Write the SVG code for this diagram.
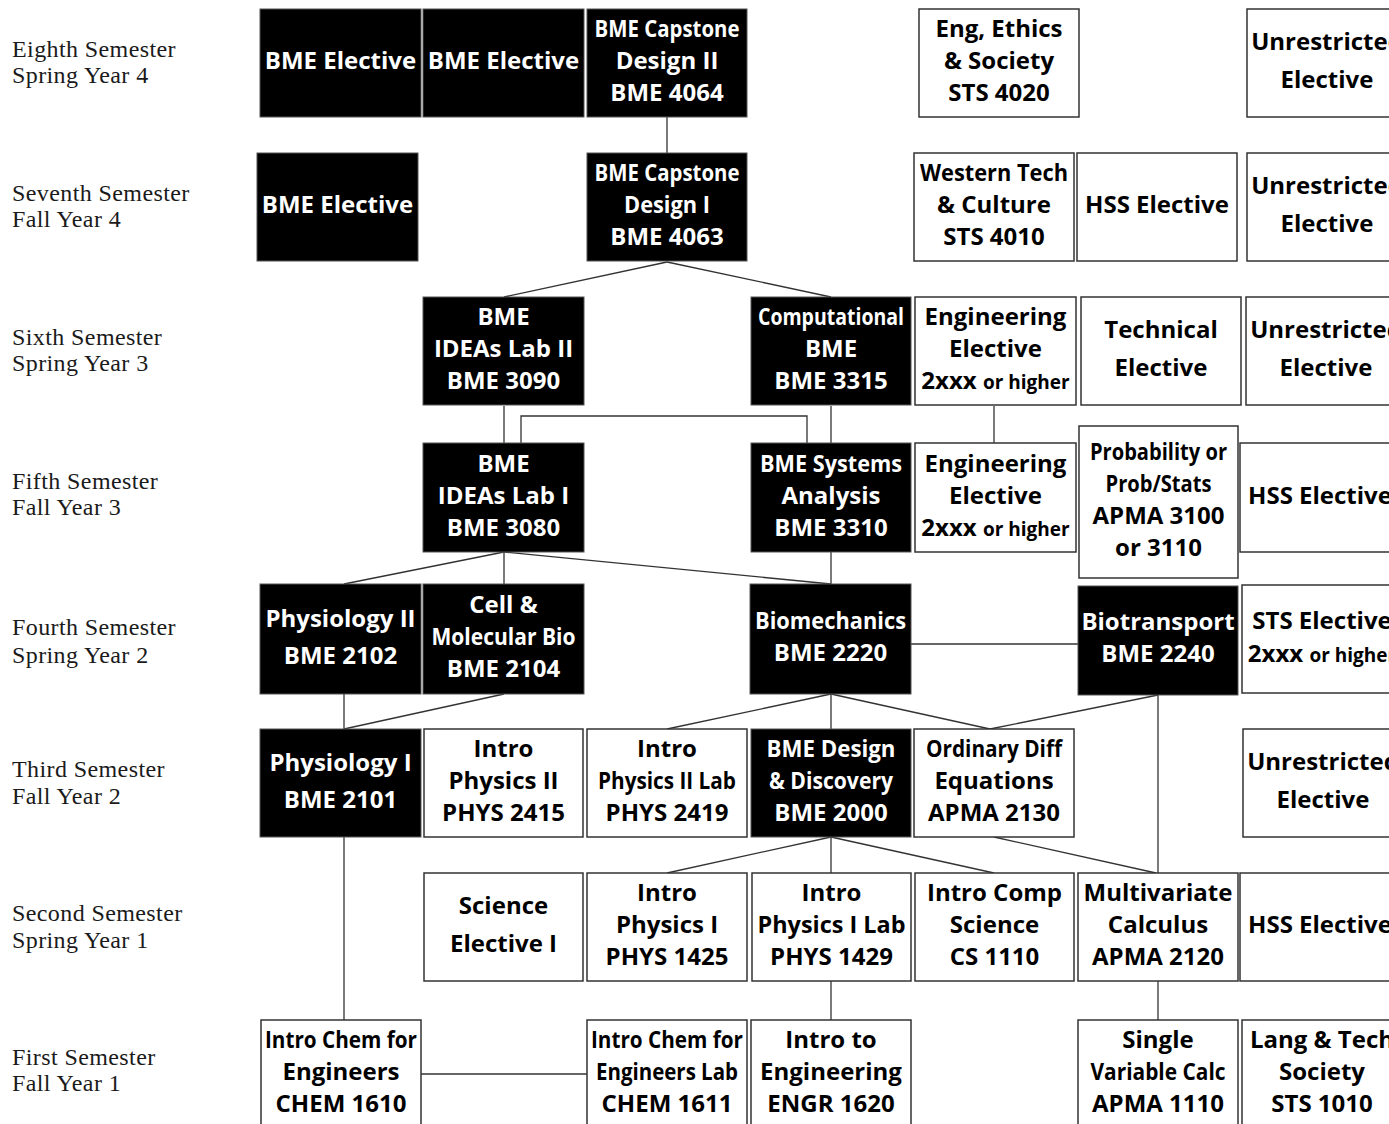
<svg xmlns="http://www.w3.org/2000/svg" width="1389" height="1124" viewBox="0 0 1389 1124">
<style>
.sem{font-family:"Liberation Serif","Times New Roman",serif;font-size:24px;letter-spacing:0.4px;fill:#1a1a1a}
.t{font-family:"Open Sans","Noto Sans",sans-serif;font-weight:700;font-size:24px;text-anchor:middle}
.bk rect{fill:#000;stroke:#555;stroke-width:1}
.bk text{fill:#fff}
.wh rect{fill:#fff;stroke:#333;stroke-width:1.5}
.wh text{fill:#000}
.sm{font-size:19px}
#connectors line,#connectors polyline{stroke:#333;stroke-width:1.3;fill:none}
</style>
<rect width="1389" height="1124" fill="#fff"/>
<g id="semesters">
<text class="sem" x="12" y="57">Eighth Semester</text><text class="sem" x="12" y="83">Spring Year 4</text>
<text class="sem" x="12" y="201">Seventh Semester</text><text class="sem" x="12" y="227">Fall Year 4</text>
<text class="sem" x="12" y="345">Sixth Semester</text><text class="sem" x="12" y="371">Spring Year 3</text>
<text class="sem" x="12" y="489">Fifth Semester</text><text class="sem" x="12" y="515">Fall Year 3</text>
<text class="sem" x="12" y="635">Fourth Semester</text><text class="sem" x="12" y="663">Spring Year 2</text>
<text class="sem" x="12" y="777">Third Semester</text><text class="sem" x="12" y="804">Fall Year 2</text>
<text class="sem" x="12" y="921">Second Semester</text><text class="sem" x="12" y="948">Spring Year 1</text>
<text class="sem" x="12" y="1065">First Semester</text><text class="sem" x="12" y="1091">Fall Year 1</text>
</g>
<g id="connectors">
<line x1="667" y1="117" x2="667" y2="153"/>
<line x1="667" y1="262" x2="504" y2="297"/>
<line x1="667" y1="262" x2="831" y2="297"/>
<line x1="504" y1="406" x2="504" y2="443"/>
<line x1="831" y1="406" x2="831" y2="443"/>
<polyline points="521,443 521,416 807,416 807,443"/>
<line x1="994" y1="406" x2="994" y2="443"/>
<line x1="504" y1="552" x2="344" y2="584"/>
<line x1="504" y1="552" x2="504" y2="584"/>
<line x1="504" y1="552" x2="831" y2="584"/>
<line x1="831" y1="552" x2="831" y2="584"/>
<line x1="911" y1="644" x2="1078" y2="644"/>
<line x1="344" y1="694" x2="344" y2="729"/>
<line x1="504" y1="694" x2="344" y2="729"/>
<line x1="831" y1="694" x2="667" y2="729"/>
<line x1="831" y1="694" x2="831" y2="729"/>
<line x1="831" y1="694" x2="990" y2="729"/>
<line x1="1158" y1="695" x2="990" y2="729"/>
<line x1="1158" y1="695" x2="1158" y2="873"/>
<line x1="344" y1="837" x2="344" y2="1020"/>
<line x1="831" y1="837" x2="667" y2="873"/>
<line x1="831" y1="837" x2="831" y2="873"/>
<line x1="831" y1="837" x2="994" y2="873"/>
<line x1="994" y1="837" x2="1156" y2="873"/>
<line x1="421" y1="1074" x2="587" y2="1074"/>
<line x1="831" y1="981" x2="831" y2="1020"/>
<line x1="1158" y1="981" x2="1158" y2="1020"/>
</g>
<!-- Row 8 -->
<g id="bme-elective-8a" class="bk"><rect x="260" y="9" width="161" height="108"/><text class="t" x="340.5" y="69">BME Elective</text></g>
<g id="bme-elective-8b" class="bk"><rect x="423" y="9" width="161" height="108"/><text class="t" x="503.5" y="69">BME Elective</text></g>
<g id="bme4064" class="bk"><rect x="587" y="9" width="160" height="108"/><text class="t" x="667" y="37" textLength="145" lengthAdjust="spacingAndGlyphs">BME Capstone</text><text class="t" x="667" y="69">Design II</text><text class="t" x="667" y="101">BME 4064</text></g>
<g id="sts4020" class="wh"><rect x="919" y="9" width="160" height="108"/><text class="t" x="999" y="37">Eng, Ethics</text><text class="t" x="999" y="69">&amp; Society</text><text class="t" x="999" y="101">STS 4020</text></g>
<g id="unrestricted-8" class="wh"><rect x="1247" y="9" width="160" height="108"/><text class="t" x="1327" y="50">Unrestricted</text><text class="t" x="1327" y="88">Elective</text></g>
<!-- Row 7 -->
<g id="bme-elective-7" class="bk"><rect x="257" y="153" width="161" height="108"/><text class="t" x="337.5" y="213">BME Elective</text></g>
<g id="bme4063" class="bk"><rect x="587" y="153" width="160" height="108"/><text class="t" x="667" y="181" textLength="145" lengthAdjust="spacingAndGlyphs">BME Capstone</text><text class="t" x="667" y="213" textLength="86" lengthAdjust="spacingAndGlyphs">Design I</text><text class="t" x="667" y="245">BME 4063</text></g>
<g id="sts4010" class="wh"><rect x="914" y="153" width="160" height="108"/><text class="t" x="994" y="181" textLength="148" lengthAdjust="spacingAndGlyphs">Western Tech</text><text class="t" x="994" y="213">&amp; Culture</text><text class="t" x="994" y="245">STS 4010</text></g>
<g id="hss-7" class="wh"><rect x="1077" y="153" width="160" height="108"/><text class="t" x="1157" y="213">HSS Elective</text></g>
<g id="unrestricted-7" class="wh"><rect x="1247" y="153" width="160" height="108"/><text class="t" x="1327" y="194">Unrestricted</text><text class="t" x="1327" y="232">Elective</text></g>
<!-- Row 6 -->
<g id="bme3090" class="bk"><rect x="423" y="297" width="161" height="108"/><text class="t" x="503.5" y="325">BME</text><text class="t" x="503.5" y="357">IDEAs Lab II</text><text class="t" x="503.5" y="389">BME 3090</text></g>
<g id="bme3315" class="bk"><rect x="751" y="297" width="160" height="108"/><text class="t" x="831" y="325" textLength="146" lengthAdjust="spacingAndGlyphs">Computational</text><text class="t" x="831" y="357">BME</text><text class="t" x="831" y="389">BME 3315</text></g>
<g id="eng-elective-6" class="wh"><rect x="915" y="297" width="161" height="108"/><text class="t" x="995.5" y="325">Engineering</text><text class="t" x="995.5" y="357">Elective</text><text class="t" x="995.5" y="389">2xxx <tspan class="sm">or higher</tspan></text></g>
<g id="technical-6" class="wh"><rect x="1081" y="297" width="160" height="108"/><text class="t" x="1161" y="338">Technical</text><text class="t" x="1161" y="376">Elective</text></g>
<g id="unrestricted-6" class="wh"><rect x="1246" y="297" width="160" height="108"/><text class="t" x="1326" y="338">Unrestricted</text><text class="t" x="1326" y="376">Elective</text></g>
<!-- Row 5 -->
<g id="bme3080" class="bk"><rect x="423" y="443" width="161" height="109"/><text class="t" x="503.5" y="472">BME</text><text class="t" x="503.5" y="504">IDEAs Lab I</text><text class="t" x="503.5" y="536">BME 3080</text></g>
<g id="bme3310" class="bk"><rect x="751" y="443" width="160" height="109"/><text class="t" x="831" y="472" textLength="142" lengthAdjust="spacingAndGlyphs">BME Systems</text><text class="t" x="831" y="504">Analysis</text><text class="t" x="831" y="536">BME 3310</text></g>
<g id="eng-elective-5" class="wh"><rect x="915" y="443" width="161" height="109"/><text class="t" x="995.5" y="472">Engineering</text><text class="t" x="995.5" y="504">Elective</text><text class="t" x="995.5" y="536">2xxx <tspan class="sm">or higher</tspan></text></g>
<g id="apma3100" class="wh"><rect x="1079" y="426" width="159" height="152"/><text class="t" x="1158.5" y="460" textLength="137" lengthAdjust="spacingAndGlyphs">Probability or</text><text class="t" x="1158.5" y="492" textLength="106" lengthAdjust="spacingAndGlyphs">Prob/Stats</text><text class="t" x="1158.5" y="524">APMA 3100</text><text class="t" x="1158.5" y="556">or 3110</text></g>
<g id="hss-5" class="wh"><rect x="1240" y="443" width="160" height="109"/><text class="t" x="1320" y="504">HSS Elective</text></g>
<!-- Row 4 -->
<g id="bme2102" class="bk"><rect x="260" y="584" width="161" height="110"/><text class="t" x="340.5" y="627">Physiology II</text><text class="t" x="340.5" y="664">BME 2102</text></g>
<g id="bme2104" class="bk"><rect x="423" y="584" width="161" height="110"/><text class="t" x="503.5" y="613">Cell &amp;</text><text class="t" x="503.5" y="645" textLength="144" lengthAdjust="spacingAndGlyphs">Molecular Bio</text><text class="t" x="503.5" y="677">BME 2104</text></g>
<g id="bme2220" class="bk"><rect x="750" y="584" width="161" height="110"/><text class="t" x="830.5" y="629" textLength="151" lengthAdjust="spacingAndGlyphs">Biomechanics</text><text class="t" x="830.5" y="661">BME 2220</text></g>
<g id="bme2240" class="bk"><rect x="1078" y="586" width="160" height="109"/><text class="t" x="1158" y="630">Biotransport</text><text class="t" x="1158" y="662">BME 2240</text></g>
<g id="sts-elective" class="wh"><rect x="1242" y="585" width="160" height="108"/><text class="t" x="1322" y="629">STS Elective</text><text class="t" x="1322" y="662">2xxx <tspan class="sm">or higher</tspan></text></g>
<!-- Row 3 -->
<g id="bme2101" class="bk"><rect x="260" y="729" width="161" height="108"/><text class="t" x="340.5" y="771">Physiology I</text><text class="t" x="340.5" y="808">BME 2101</text></g>
<g id="phys2415" class="wh"><rect x="424" y="729" width="159" height="108"/><text class="t" x="503.5" y="757">Intro</text><text class="t" x="503.5" y="789">Physics II</text><text class="t" x="503.5" y="821">PHYS 2415</text></g>
<g id="phys2419" class="wh"><rect x="587" y="729" width="160" height="108"/><text class="t" x="667" y="757">Intro</text><text class="t" x="667" y="789" textLength="138" lengthAdjust="spacingAndGlyphs">Physics II Lab</text><text class="t" x="667" y="821">PHYS 2419</text></g>
<g id="bme2000" class="bk"><rect x="751" y="729" width="160" height="108"/><text class="t" x="831" y="757" textLength="129" lengthAdjust="spacingAndGlyphs">BME Design</text><text class="t" x="831" y="789" textLength="124" lengthAdjust="spacingAndGlyphs">&amp; Discovery</text><text class="t" x="831" y="821">BME 2000</text></g>
<g id="apma2130" class="wh"><rect x="914" y="729" width="160" height="108"/><text class="t" x="994" y="757" textLength="136" lengthAdjust="spacingAndGlyphs">Ordinary Diff</text><text class="t" x="994" y="789">Equations</text><text class="t" x="994" y="821">APMA 2130</text></g>
<g id="unrestricted-3" class="wh"><rect x="1243" y="729" width="160" height="108"/><text class="t" x="1323" y="770">Unrestricted</text><text class="t" x="1323" y="808">Elective</text></g>
<!-- Row 2 -->
<g id="science-elective" class="wh"><rect x="424" y="873" width="159" height="108"/><text class="t" x="503.5" y="914">Science</text><text class="t" x="503.5" y="952">Elective I</text></g>
<g id="phys1425" class="wh"><rect x="587" y="873" width="160" height="108"/><text class="t" x="667" y="901">Intro</text><text class="t" x="667" y="933">Physics I</text><text class="t" x="667" y="965">PHYS 1425</text></g>
<g id="phys1429" class="wh"><rect x="752" y="873" width="159" height="108"/><text class="t" x="831.5" y="901">Intro</text><text class="t" x="831.5" y="933" textLength="148" lengthAdjust="spacingAndGlyphs">Physics I Lab</text><text class="t" x="831.5" y="965">PHYS 1429</text></g>
<g id="cs1110" class="wh"><rect x="915" y="873" width="159" height="108"/><text class="t" x="994.5" y="901">Intro Comp</text><text class="t" x="994.5" y="933">Science</text><text class="t" x="994.5" y="965">CS 1110</text></g>
<g id="apma2120" class="wh"><rect x="1078" y="873" width="160" height="108"/><text class="t" x="1158" y="901">Multivariate</text><text class="t" x="1158" y="933">Calculus</text><text class="t" x="1158" y="965">APMA 2120</text></g>
<g id="hss-2" class="wh"><rect x="1240" y="873" width="160" height="108"/><text class="t" x="1320" y="933">HSS Elective</text></g>
<!-- Row 1 -->
<g id="chem1610" class="wh"><rect x="261" y="1020" width="160" height="110"/><text class="t" x="341" y="1048" textLength="152" lengthAdjust="spacingAndGlyphs">Intro Chem for</text><text class="t" x="341" y="1080">Engineers</text><text class="t" x="341" y="1112">CHEM 1610</text></g>
<g id="chem1611" class="wh"><rect x="587" y="1020" width="160" height="110"/><text class="t" x="667" y="1048" textLength="152" lengthAdjust="spacingAndGlyphs">Intro Chem for</text><text class="t" x="667" y="1080" textLength="142" lengthAdjust="spacingAndGlyphs">Engineers Lab</text><text class="t" x="667" y="1112">CHEM 1611</text></g>
<g id="engr1620" class="wh"><rect x="751" y="1020" width="160" height="110"/><text class="t" x="831" y="1048">Intro to</text><text class="t" x="831" y="1080">Engineering</text><text class="t" x="831" y="1112">ENGR 1620</text></g>
<g id="apma1110" class="wh"><rect x="1078" y="1020" width="160" height="110"/><text class="t" x="1158" y="1048">Single</text><text class="t" x="1158" y="1080" textLength="135" lengthAdjust="spacingAndGlyphs">Variable Calc</text><text class="t" x="1158" y="1112">APMA 1110</text></g>
<g id="sts1010" class="wh"><rect x="1242" y="1020" width="160" height="110"/><text class="t" x="1322" y="1048">Lang &amp; Tech</text><text class="t" x="1322" y="1080">Society</text><text class="t" x="1322" y="1112">STS 1010</text></g>
</svg>
